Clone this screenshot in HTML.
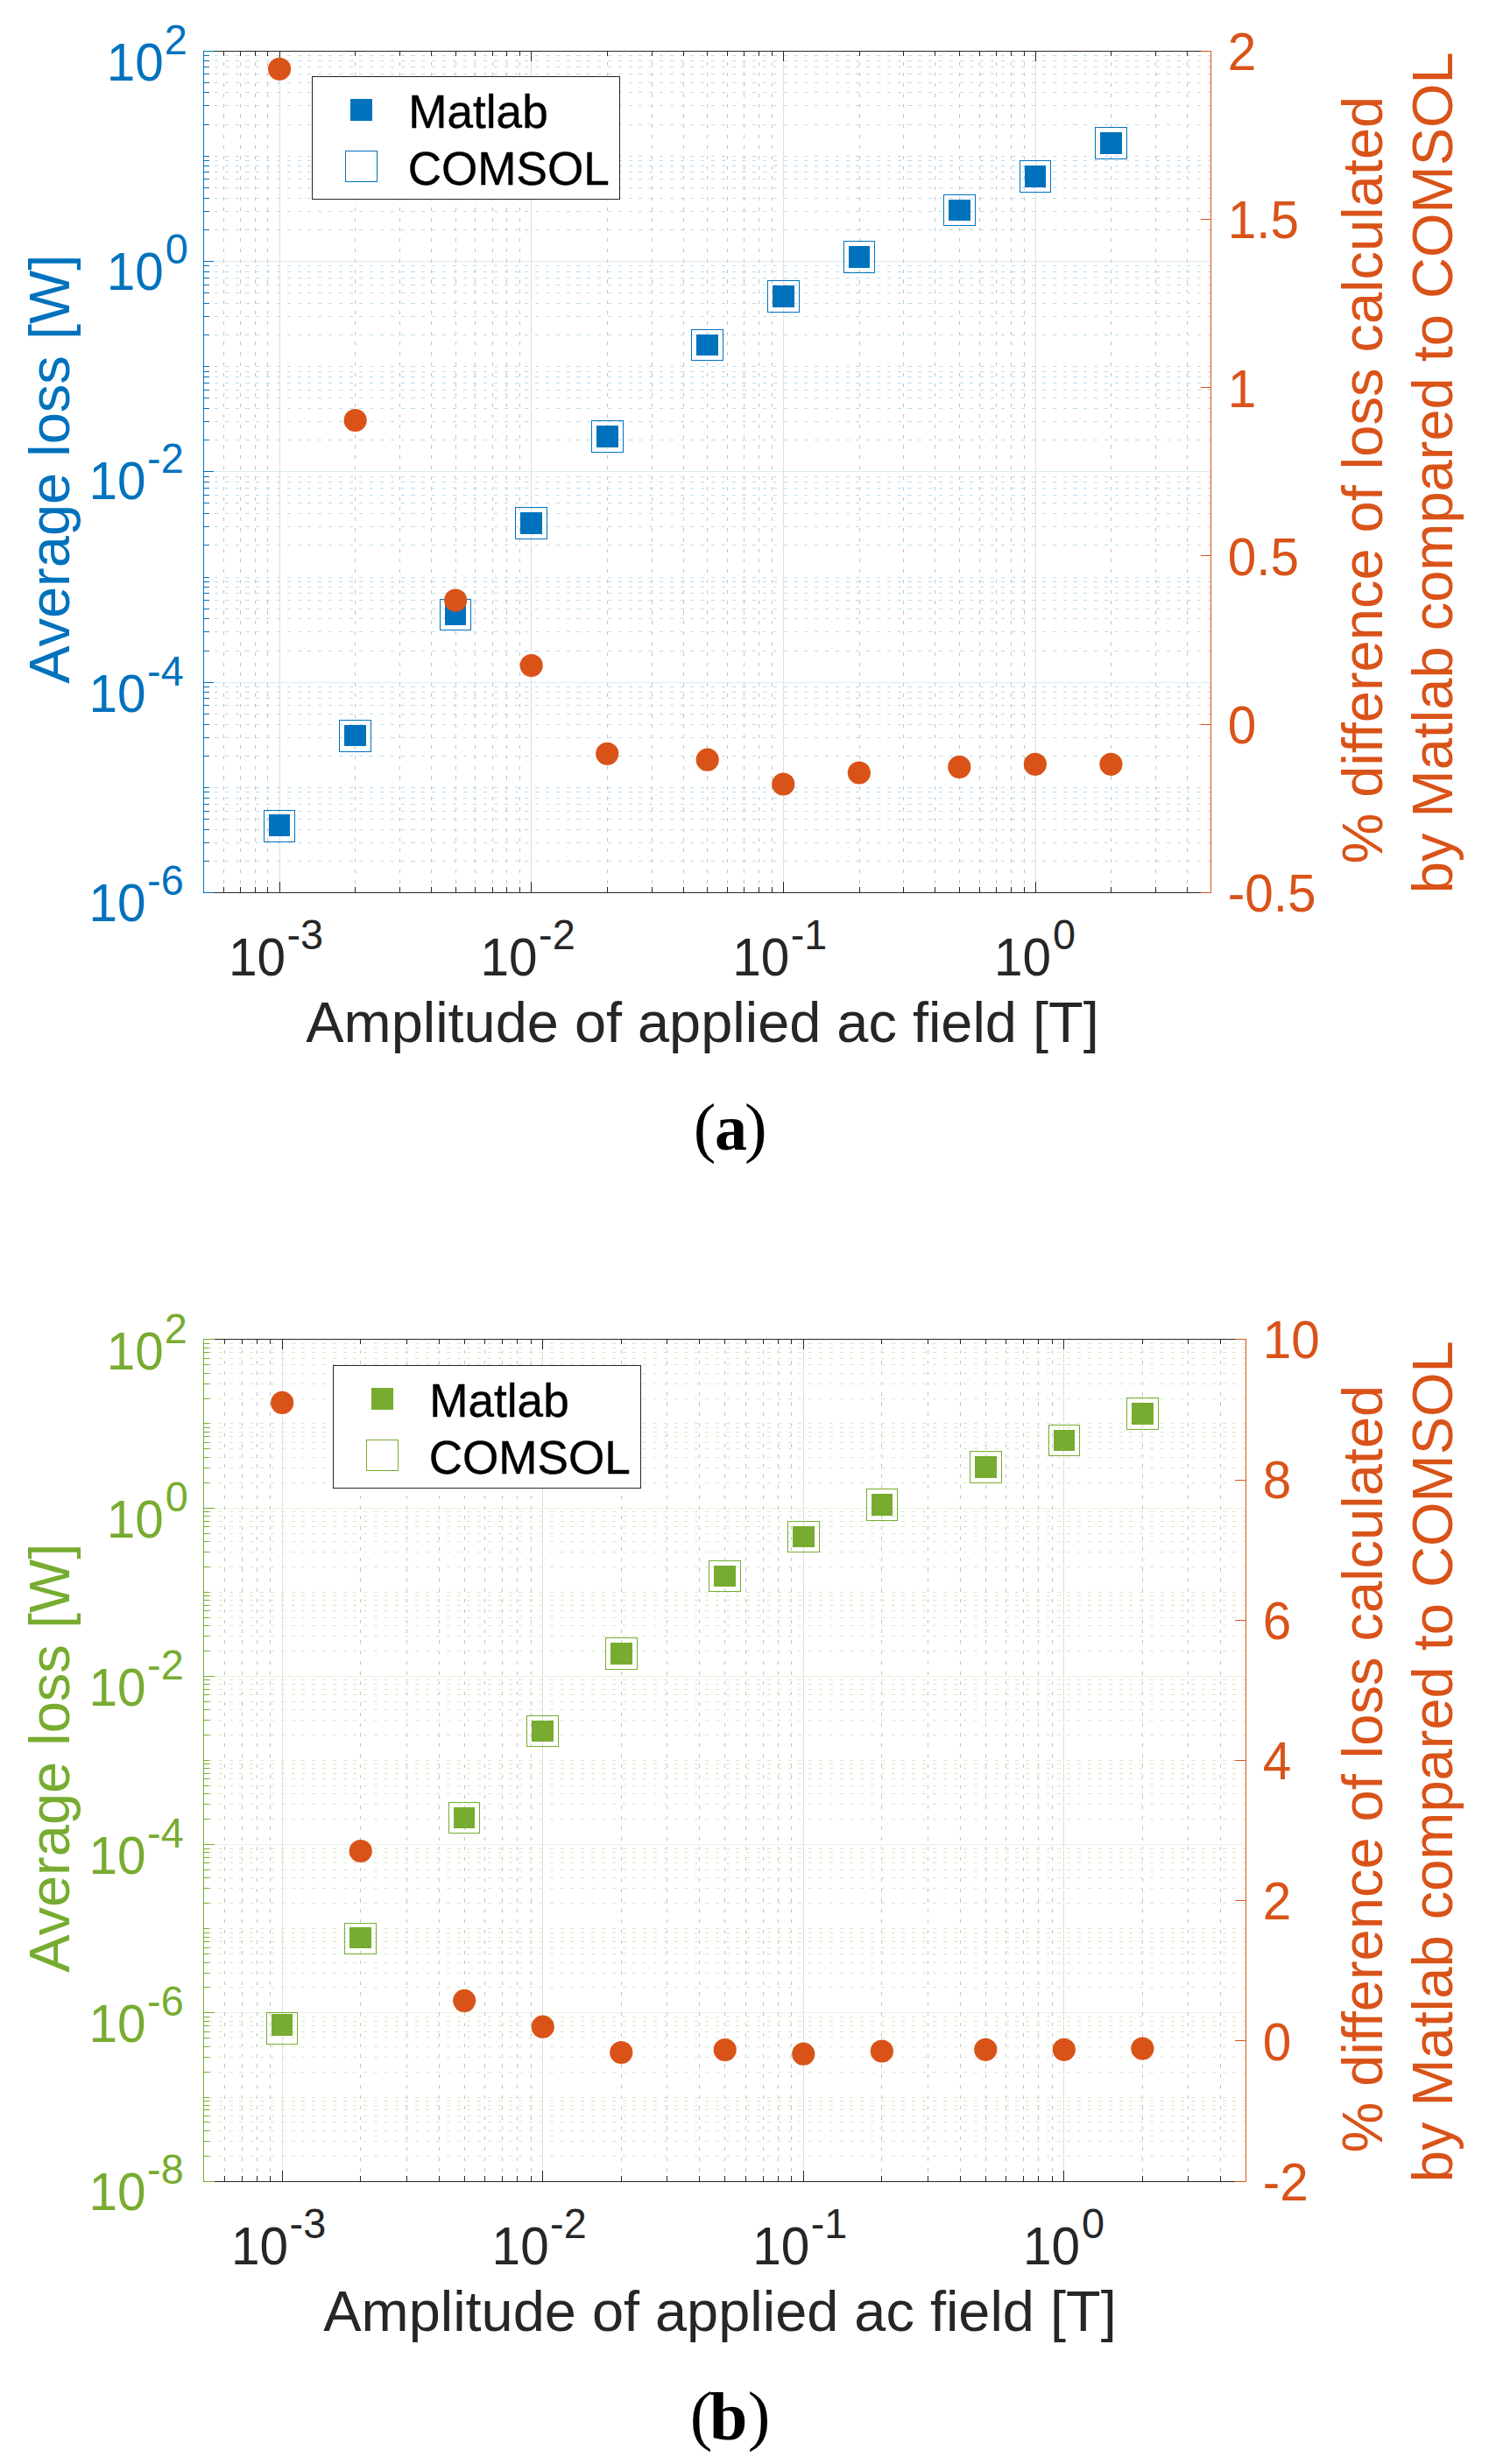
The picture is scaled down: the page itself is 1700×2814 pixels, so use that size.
<!DOCTYPE html>
<html lang="en"><head><meta charset="utf-8"><title>Average loss vs amplitude of applied ac field</title>
<style>html,body{margin:0;padding:0;background:#fff}svg{display:block}text{font-family:"Liberation Sans",sans-serif}.tk text{font-size:58.5px}.tk text.sp{font-size:46.8px}.lb text{font-size:65px}.lb text.xl{font-size:64.9px}.lg text{font-size:53.1px;fill:#000;stroke:#000;stroke-width:.4px}.cp text{font-family:"Liberation Serif",serif;font-size:77px;fill:#000}.cp .b{font-weight:bold}</style></head><body>
<svg width="1700" height="2814" viewBox="0 0 1700 2814">
<rect width="1700" height="2814" fill="#fff"/>
<g shape-rendering="crispEdges" fill="none" stroke-width="1">
<path d="M319.5 58.5V1019.5M606.5 58.5V1019.5M894.5 58.5V1019.5M1182.5 58.5V1019.5" stroke="#dedede"/>
<path d="M232.5 779.5H1382.5M232.5 538.5H1382.5M232.5 298.5H1382.5" stroke="#d9eaf5"/>
<path d="M255.5 59.6V1019.5M274.5 59.6V1019.5M291.5 59.6V1019.5M305.5 59.6V1019.5M405.5 59.6V1019.5M456.5 59.6V1019.5M492.5 59.6V1019.5M520.5 59.6V1019.5M542.5 59.6V1019.5M562.5 59.6V1019.5M578.5 59.6V1019.5M593.5 59.6V1019.5M693.5 59.6V1019.5M744.5 59.6V1019.5M780.5 59.6V1019.5M807.5 59.6V1019.5M830.5 59.6V1019.5M849.5 59.6V1019.5M866.5 59.6V1019.5M881.5 59.6V1019.5M981.5 59.6V1019.5M1031.5 59.6V1019.5M1067.5 59.6V1019.5M1095.5 59.6V1019.5M1118.5 59.6V1019.5M1137.5 59.6V1019.5M1154.5 59.6V1019.5M1169.5 59.6V1019.5M1268.5 59.6V1019.5M1319.5 59.6V1019.5M1355.5 59.6V1019.5" stroke="#c4c4c4" stroke-dasharray="4.05 7.7625"/>
<path d="M233.2 983.5H1382.5M233.2 962.5H1382.5M233.2 947.5H1382.5M233.2 935.5H1382.5M233.2 926.5H1382.5M233.2 918.5H1382.5M233.2 911.5H1382.5M233.2 904.5H1382.5M233.2 899.5H1382.5M233.2 863.5H1382.5M233.2 842.5H1382.5M233.2 827.5H1382.5M233.2 815.5H1382.5M233.2 805.5H1382.5M233.2 797.5H1382.5M233.2 790.5H1382.5M233.2 784.5H1382.5M233.2 743.5H1382.5M233.2 721.5H1382.5M233.2 706.5H1382.5M233.2 695.5H1382.5M233.2 685.5H1382.5M233.2 677.5H1382.5M233.2 670.5H1382.5M233.2 664.5H1382.5M233.2 659.5H1382.5M233.2 622.5H1382.5M233.2 601.5H1382.5M233.2 586.5H1382.5M233.2 574.5H1382.5M233.2 565.5H1382.5M233.2 557.5H1382.5M233.2 550.5H1382.5M233.2 544.5H1382.5M233.2 502.5H1382.5M233.2 481.5H1382.5M233.2 466.5H1382.5M233.2 454.5H1382.5M233.2 445.5H1382.5M233.2 437.5H1382.5M233.2 430.5H1382.5M233.2 424.5H1382.5M233.2 418.5H1382.5M233.2 382.5H1382.5M233.2 361.5H1382.5M233.2 346.5H1382.5M233.2 334.5H1382.5M233.2 325.5H1382.5M233.2 317.5H1382.5M233.2 310.5H1382.5M233.2 303.5H1382.5M233.2 262.5H1382.5M233.2 241.5H1382.5M233.2 226.5H1382.5M233.2 214.5H1382.5M233.2 204.5H1382.5M233.2 196.5H1382.5M233.2 189.5H1382.5M233.2 183.5H1382.5M233.2 178.5H1382.5M233.2 142.5H1382.5M233.2 120.5H1382.5M233.2 105.5H1382.5M233.2 94.5H1382.5M233.2 84.5H1382.5M233.2 76.5H1382.5M233.2 69.5H1382.5M233.2 63.5H1382.5" stroke="#bcdbee" stroke-dasharray="4.05 7.7625"/>
<path d="M232.5 58.5H1382.5M232.5 1019.5H1382.5M255.5 58v6M255.5 1020v-7M274.5 58v6M274.5 1020v-7M291.5 58v6M291.5 1020v-7M305.5 58v6M305.5 1020v-7M405.5 58v6M405.5 1020v-7M456.5 58v6M456.5 1020v-7M492.5 58v6M492.5 1020v-7M520.5 58v6M520.5 1020v-7M542.5 58v6M542.5 1020v-7M562.5 58v6M562.5 1020v-7M578.5 58v6M578.5 1020v-7M593.5 58v6M593.5 1020v-7M693.5 58v6M693.5 1020v-7M744.5 58v6M744.5 1020v-7M780.5 58v6M780.5 1020v-7M807.5 58v6M807.5 1020v-7M830.5 58v6M830.5 1020v-7M849.5 58v6M849.5 1020v-7M866.5 58v6M866.5 1020v-7M881.5 58v6M881.5 1020v-7M981.5 58v6M981.5 1020v-7M1031.5 58v6M1031.5 1020v-7M1067.5 58v6M1067.5 1020v-7M1095.5 58v6M1095.5 1020v-7M1118.5 58v6M1118.5 1020v-7M1137.5 58v6M1137.5 1020v-7M1154.5 58v6M1154.5 1020v-7M1169.5 58v6M1169.5 1020v-7M1268.5 58v6M1268.5 1020v-7M1319.5 58v6M1319.5 1020v-7M1355.5 58v6M1355.5 1020v-7M319.5 58v12M319.5 1020v-13M606.5 58v12M606.5 1020v-13M894.5 58v12M894.5 1020v-13M1182.5 58v12M1182.5 1020v-13" stroke="#262626"/>
<path d="M232.5 58V1020M232 983.5H239M232 962.5H239M232 947.5H239M232 935.5H239M232 926.5H239M232 918.5H239M232 911.5H239M232 904.5H239M232 899.5H239M232 863.5H239M232 842.5H239M232 827.5H239M232 815.5H239M232 805.5H239M232 797.5H239M232 790.5H239M232 784.5H239M232 743.5H239M232 721.5H239M232 706.5H239M232 695.5H239M232 685.5H239M232 677.5H239M232 670.5H239M232 664.5H239M232 659.5H239M232 622.5H239M232 601.5H239M232 586.5H239M232 574.5H239M232 565.5H239M232 557.5H239M232 550.5H239M232 544.5H239M232 502.5H239M232 481.5H239M232 466.5H239M232 454.5H239M232 445.5H239M232 437.5H239M232 430.5H239M232 424.5H239M232 418.5H239M232 382.5H239M232 361.5H239M232 346.5H239M232 334.5H239M232 325.5H239M232 317.5H239M232 310.5H239M232 303.5H239M232 262.5H239M232 241.5H239M232 226.5H239M232 214.5H239M232 204.5H239M232 196.5H239M232 189.5H239M232 183.5H239M232 178.5H239M232 142.5H239M232 120.5H239M232 105.5H239M232 94.5H239M232 84.5H239M232 76.5H239M232 69.5H239M232 63.5H239M232 1019.5H244M232 779.5H244M232 538.5H244M232 298.5H244M232 58.5H244" stroke="#0072bd"/>
<path d="M1382.5 58V1020M1383 1019.5H1371M1383 827.5H1371M1383 634.5H1371M1383 442.5H1371M1383 250.5H1371M1383 58.5H1371" stroke="#d95319"/>
</g>
<g fill="#0072bd" shape-rendering="crispEdges"><rect x="307" y="930" width="24" height="25"/><rect x="393" y="828" width="25" height="24"/><rect x="508" y="689" width="24" height="25"/><rect x="594" y="585" width="25" height="25"/><rect x="681" y="486" width="25" height="25"/><rect x="795" y="382" width="25" height="24"/><rect x="882" y="326" width="25" height="25"/><rect x="969" y="281" width="24" height="25"/><rect x="1083" y="228" width="25" height="24"/><rect x="1170" y="189" width="24" height="25"/><rect x="1256" y="151" width="25" height="25"/></g>
<g fill="none" stroke="#0072bd" stroke-width="1" shape-rendering="crispEdges"><rect x="301.5" y="925.5" width="35" height="36"/><rect x="387.5" y="822.5" width="36" height="36"/><rect x="502.5" y="684.5" width="35" height="35"/><rect x="588.5" y="579.5" width="36" height="36"/><rect x="675.5" y="480.5" width="36" height="36"/><rect x="789.5" y="376.5" width="36" height="35"/><rect x="876.5" y="320.5" width="36" height="36"/><rect x="963.5" y="275.5" width="35" height="36"/><rect x="1077.5" y="222.5" width="36" height="35"/><rect x="1164.5" y="183.5" width="35" height="36"/><rect x="1250.5" y="145.5" width="36" height="36"/></g>
<g fill="#d95319"><circle cx="319.08" cy="78.8" r="13.1"/><circle cx="405.65" cy="480" r="13.1"/><circle cx="520.1" cy="685.6" r="13.1"/><circle cx="606.68" cy="760.1" r="13.1"/><circle cx="693.25" cy="860.8" r="13.1"/><circle cx="807.7" cy="867.7" r="13.1"/><circle cx="894.28" cy="895.5" r="13.1"/><circle cx="980.85" cy="882.6" r="13.1"/><circle cx="1095.3" cy="875.9" r="13.1"/><circle cx="1181.88" cy="872.8" r="13.1"/><circle cx="1268.45" cy="872.8" r="13.1"/></g>
<rect x="356.5" y="87.5" width="351" height="140" fill="#fff" stroke="#262626" stroke-width="1" shape-rendering="crispEdges"/>
<g fill="#0072bd" shape-rendering="crispEdges"><rect x="400" y="113" width="25" height="25"/></g>
<g fill="none" stroke="#0072bd" stroke-width="1" shape-rendering="crispEdges"><rect x="394.5" y="172.5" width="36" height="35"/></g>
<g class="lg"><text x="466.3" y="145.9">Matlab</text><text x="465.7" y="210.9">COMSOL</text></g>
<g class="tk" fill="#0072bd"><text transform="translate(101.55 1052.1) scale(1 1.04)">10</text><text class="sp" transform="translate(168.05 1022.1) scale(1 1.04)">-6</text><text transform="translate(101.55 812.95) scale(1 1.04)">10</text><text class="sp" transform="translate(168.05 782.95) scale(1 1.04)">-4</text><text transform="translate(101.55 569.5) scale(1 1.04)">10</text><text class="sp" transform="translate(168.05 539.5) scale(1 1.04)">-2</text><text transform="translate(121.65 331.25) scale(1 1.04)">10</text><text class="sp" transform="translate(188.65 301.25) scale(1 1.04)">0</text><text transform="translate(121.65 92.2) scale(1 1.04)">10</text><text class="sp" transform="translate(187.75 62.2) scale(1 1.04)">2</text></g>
<g class="tk" fill="#262626"><text transform="translate(260.98 1113.9) scale(1 1.04)">10</text><text class="sp" transform="translate(327.48 1083.9) scale(1 1.04)">-3</text><text transform="translate(548.58 1113.9) scale(1 1.04)">10</text><text class="sp" transform="translate(615.08 1083.9) scale(1 1.04)">-2</text><text transform="translate(836.18 1113.9) scale(1 1.04)">10</text><text class="sp" transform="translate(902.68 1083.9) scale(1 1.04)">-1</text><text transform="translate(1135.08 1113.9) scale(1 1.04)">10</text><text class="sp" transform="translate(1202.08 1083.9) scale(1 1.04)">0</text></g>
<g class="tk" fill="#d95319"><text transform="translate(1401.7 1041.1) scale(1 1.04)">-0.5</text><text transform="translate(1401.7 848.9) scale(1 1.04)">0</text><text transform="translate(1401.7 656.7) scale(1 1.04)">0.5</text><text transform="translate(1401.7 464.5) scale(1 1.04)">1</text><text transform="translate(1401.7 272.3) scale(1 1.04)">1.5</text><text transform="translate(1401.7 80.1) scale(1 1.04)">2</text></g>
<g class="lb">
<text fill="#0072bd" transform="translate(79 780.75) rotate(-90)">Average loss [W]</text>
<text class="xl" fill="#262626" x="349.3" y="1190.3">Amplitude of applied ac field [T]</text>
<text fill="#d95319" transform="translate(1578 986.6) rotate(-90)">% difference of loss calculated</text>
<text fill="#d95319" transform="translate(1657.9 1020.2) rotate(-90)">by Matlab compared to COMSOL</text>
</g>
<g class="cp"><text x="791.7" y="1312.6">(</text><text class="b" style="font-size:74px" x="816" y="1313.3">a</text><text x="850" y="1312.6">)</text></g>
<g shape-rendering="crispEdges" fill="none" stroke-width="1">
<path d="M322.5 1529.5V2491.5M619.5 1529.5V2491.5M917.5 1529.5V2491.5M1214.5 1529.5V2491.5" stroke="#dedede"/>
<path d="M232.5 2298.5H1422.5M232.5 2106.5H1422.5M232.5 1914.5H1422.5M232.5 1722.5H1422.5" stroke="#ebf3e0"/>
<path d="M256.5 1530.6V2491.5M276.5 1530.6V2491.5M293.5 1530.6V2491.5M308.5 1530.6V2491.5M411.5 1530.6V2491.5M464.5 1530.6V2491.5M501.5 1530.6V2491.5M530.5 1530.6V2491.5M553.5 1530.6V2491.5M573.5 1530.6V2491.5M590.5 1530.6V2491.5M606.5 1530.6V2491.5M709.5 1530.6V2491.5M761.5 1530.6V2491.5M798.5 1530.6V2491.5M827.5 1530.6V2491.5M851.5 1530.6V2491.5M871.5 1530.6V2491.5M888.5 1530.6V2491.5M903.5 1530.6V2491.5M1006.5 1530.6V2491.5M1059.5 1530.6V2491.5M1096.5 1530.6V2491.5M1125.5 1530.6V2491.5M1148.5 1530.6V2491.5M1168.5 1530.6V2491.5M1185.5 1530.6V2491.5M1201.5 1530.6V2491.5M1304.5 1530.6V2491.5M1356.5 1530.6V2491.5M1393.5 1530.6V2491.5" stroke="#c4c4c4" stroke-dasharray="4.05 7.7625"/>
<path d="M238 2462.5H1422.5M238 2445.5H1422.5M238 2433.5H1422.5M238 2423.5H1422.5M238 2416.5H1422.5M238 2409.5H1422.5M238 2404.5H1422.5M238 2399.5H1422.5M238 2395.5H1422.5M238 2366.5H1422.5M238 2349.5H1422.5M238 2337.5H1422.5M238 2327.5H1422.5M238 2320.5H1422.5M238 2313.5H1422.5M238 2308.5H1422.5M238 2303.5H1422.5M238 2269.5H1422.5M238 2253.5H1422.5M238 2241.5H1422.5M238 2231.5H1422.5M238 2224.5H1422.5M238 2217.5H1422.5M238 2212.5H1422.5M238 2207.5H1422.5M238 2202.5H1422.5M238 2173.5H1422.5M238 2156.5H1422.5M238 2144.5H1422.5M238 2135.5H1422.5M238 2127.5H1422.5M238 2121.5H1422.5M238 2115.5H1422.5M238 2111.5H1422.5M238 2077.5H1422.5M238 2060.5H1422.5M238 2048.5H1422.5M238 2039.5H1422.5M238 2031.5H1422.5M238 2025.5H1422.5M238 2019.5H1422.5M238 2014.5H1422.5M238 2010.5H1422.5M238 1981.5H1422.5M238 1964.5H1422.5M238 1952.5H1422.5M238 1943.5H1422.5M238 1935.5H1422.5M238 1929.5H1422.5M238 1923.5H1422.5M238 1918.5H1422.5M238 1885.5H1422.5M238 1868.5H1422.5M238 1856.5H1422.5M238 1847.5H1422.5M238 1839.5H1422.5M238 1833.5H1422.5M238 1827.5H1422.5M238 1822.5H1422.5M238 1818.5H1422.5M238 1789.5H1422.5M238 1772.5H1422.5M238 1760.5H1422.5M238 1751.5H1422.5M238 1743.5H1422.5M238 1737.5H1422.5M238 1731.5H1422.5M238 1726.5H1422.5M238 1693.5H1422.5M238 1676.5H1422.5M238 1664.5H1422.5M238 1654.5H1422.5M238 1647.5H1422.5M238 1640.5H1422.5M238 1635.5H1422.5M238 1630.5H1422.5M238 1625.5H1422.5M238 1597.5H1422.5M238 1580.5H1422.5M238 1568.5H1422.5M238 1558.5H1422.5M238 1551.5H1422.5M238 1544.5H1422.5M238 1539.5H1422.5M238 1534.5H1422.5" stroke="#d9e8c6" stroke-dasharray="4.05 7.7625"/>
<path d="M232.5 1529.5H1422.5M232.5 2491.5H1422.5M256.5 1529v6M256.5 2492v-7M276.5 1529v6M276.5 2492v-7M293.5 1529v6M293.5 2492v-7M308.5 1529v6M308.5 2492v-7M411.5 1529v6M411.5 2492v-7M464.5 1529v6M464.5 2492v-7M501.5 1529v6M501.5 2492v-7M530.5 1529v6M530.5 2492v-7M553.5 1529v6M553.5 2492v-7M573.5 1529v6M573.5 2492v-7M590.5 1529v6M590.5 2492v-7M606.5 1529v6M606.5 2492v-7M709.5 1529v6M709.5 2492v-7M761.5 1529v6M761.5 2492v-7M798.5 1529v6M798.5 2492v-7M827.5 1529v6M827.5 2492v-7M851.5 1529v6M851.5 2492v-7M871.5 1529v6M871.5 2492v-7M888.5 1529v6M888.5 2492v-7M903.5 1529v6M903.5 2492v-7M1006.5 1529v6M1006.5 2492v-7M1059.5 1529v6M1059.5 2492v-7M1096.5 1529v6M1096.5 2492v-7M1125.5 1529v6M1125.5 2492v-7M1148.5 1529v6M1148.5 2492v-7M1168.5 1529v6M1168.5 2492v-7M1185.5 1529v6M1185.5 2492v-7M1201.5 1529v6M1201.5 2492v-7M1304.5 1529v6M1304.5 2492v-7M1356.5 1529v6M1356.5 2492v-7M1393.5 1529v6M1393.5 2492v-7M322.5 1529v12M322.5 2492v-13M619.5 1529v12M619.5 2492v-13M917.5 1529v12M917.5 2492v-13M1214.5 1529v12M1214.5 2492v-13" stroke="#262626"/>
<path d="M232.5 1529V2492M232 2462.5H239M232 2445.5H239M232 2433.5H239M232 2423.5H239M232 2416.5H239M232 2409.5H239M232 2404.5H239M232 2399.5H239M232 2395.5H239M232 2366.5H239M232 2349.5H239M232 2337.5H239M232 2327.5H239M232 2320.5H239M232 2313.5H239M232 2308.5H239M232 2303.5H239M232 2269.5H239M232 2253.5H239M232 2241.5H239M232 2231.5H239M232 2224.5H239M232 2217.5H239M232 2212.5H239M232 2207.5H239M232 2202.5H239M232 2173.5H239M232 2156.5H239M232 2144.5H239M232 2135.5H239M232 2127.5H239M232 2121.5H239M232 2115.5H239M232 2111.5H239M232 2077.5H239M232 2060.5H239M232 2048.5H239M232 2039.5H239M232 2031.5H239M232 2025.5H239M232 2019.5H239M232 2014.5H239M232 2010.5H239M232 1981.5H239M232 1964.5H239M232 1952.5H239M232 1943.5H239M232 1935.5H239M232 1929.5H239M232 1923.5H239M232 1918.5H239M232 1885.5H239M232 1868.5H239M232 1856.5H239M232 1847.5H239M232 1839.5H239M232 1833.5H239M232 1827.5H239M232 1822.5H239M232 1818.5H239M232 1789.5H239M232 1772.5H239M232 1760.5H239M232 1751.5H239M232 1743.5H239M232 1737.5H239M232 1731.5H239M232 1726.5H239M232 1693.5H239M232 1676.5H239M232 1664.5H239M232 1654.5H239M232 1647.5H239M232 1640.5H239M232 1635.5H239M232 1630.5H239M232 1625.5H239M232 1597.5H239M232 1580.5H239M232 1568.5H239M232 1558.5H239M232 1551.5H239M232 1544.5H239M232 1539.5H239M232 1534.5H239M232 2491.5H245M232 2298.5H245M232 2106.5H245M232 1914.5H245M232 1722.5H245M232 1529.5H245" stroke="#77ac30"/>
<path d="M1422.5 1529V2492M1423 2491.5H1410M1423 2330.5H1410M1423 2170.5H1410M1423 2010.5H1410M1423 1850.5H1410M1423 1690.5H1410M1423 1529.5H1410" stroke="#d95319"/>
</g>
<g fill="#77ac30" shape-rendering="crispEdges"><rect x="310" y="2300" width="24" height="25"/><rect x="399" y="2201" width="25" height="24"/><rect x="518" y="2064" width="24" height="24"/><rect x="607" y="1965" width="25" height="24"/><rect x="697" y="1876" width="25" height="25"/><rect x="815" y="1788" width="25" height="24"/><rect x="905" y="1743" width="25" height="24"/><rect x="995" y="1706" width="24" height="25"/><rect x="1113" y="1663" width="25" height="25"/><rect x="1203" y="1633" width="24" height="24"/><rect x="1292" y="1602" width="25" height="25"/></g>
<g fill="none" stroke="#77ac30" stroke-width="1" shape-rendering="crispEdges"><rect x="304.5" y="2298.5" width="35" height="36"/><rect x="393.5" y="2196.5" width="36" height="35"/><rect x="512.5" y="2058.5" width="35" height="35"/><rect x="601.5" y="1959.5" width="36" height="35"/><rect x="691.5" y="1870.5" width="36" height="36"/><rect x="809.5" y="1782.5" width="36" height="35"/><rect x="899.5" y="1737.5" width="36" height="35"/><rect x="989.5" y="1700.5" width="35" height="36"/><rect x="1107.5" y="1657.5" width="36" height="36"/><rect x="1197.5" y="1627.5" width="35" height="35"/><rect x="1286.5" y="1596.5" width="36" height="36"/></g>
<g fill="#d95319"><circle cx="322.17" cy="1601.9" r="13.1"/><circle cx="411.74" cy="2114" r="13.1"/><circle cx="530.15" cy="2284.9" r="13.1"/><circle cx="619.72" cy="2314.7" r="13.1"/><circle cx="709.29" cy="2344" r="13.1"/><circle cx="827.7" cy="2341" r="13.1"/><circle cx="917.27" cy="2345.7" r="13.1"/><circle cx="1006.84" cy="2342.5" r="13.1"/><circle cx="1125.25" cy="2340.8" r="13.1"/><circle cx="1214.82" cy="2340.8" r="13.1"/><circle cx="1304.39" cy="2339.6" r="13.1"/></g>
<rect x="380.5" y="1559.5" width="351" height="140" fill="#fff" stroke="#262626" stroke-width="1" shape-rendering="crispEdges"/>
<g fill="#77ac30" shape-rendering="crispEdges"><rect x="424" y="1585" width="25" height="25"/></g>
<g fill="none" stroke="#77ac30" stroke-width="1" shape-rendering="crispEdges"><rect x="418.5" y="1644.5" width="36" height="35"/></g>
<g class="lg"><text x="490.3" y="1617.9">Matlab</text><text x="489.7" y="1682.9">COMSOL</text></g>
<g class="tk" fill="#77ac30"><text transform="translate(101.55 2523.9) scale(1 1.04)">10</text><text class="sp" transform="translate(168.05 2493.9) scale(1 1.04)">-8</text><text transform="translate(101.55 2331.5) scale(1 1.04)">10</text><text class="sp" transform="translate(168.05 2301.5) scale(1 1.04)">-6</text><text transform="translate(101.55 2139.7) scale(1 1.04)">10</text><text class="sp" transform="translate(168.05 2109.7) scale(1 1.04)">-4</text><text transform="translate(101.55 1947.9) scale(1 1.04)">10</text><text class="sp" transform="translate(168.05 1917.9) scale(1 1.04)">-2</text><text transform="translate(121.65 1755.7) scale(1 1.04)">10</text><text class="sp" transform="translate(188.65 1725.7) scale(1 1.04)">0</text><text transform="translate(121.65 1563.8) scale(1 1.04)">10</text><text class="sp" transform="translate(187.75 1533.8) scale(1 1.04)">2</text></g>
<g class="tk" fill="#262626"><text transform="translate(264.07 2585.9) scale(1 1.04)">10</text><text class="sp" transform="translate(330.57 2555.9) scale(1 1.04)">-3</text><text transform="translate(561.62 2585.9) scale(1 1.04)">10</text><text class="sp" transform="translate(628.12 2555.9) scale(1 1.04)">-2</text><text transform="translate(859.17 2585.9) scale(1 1.04)">10</text><text class="sp" transform="translate(925.67 2555.9) scale(1 1.04)">-1</text><text transform="translate(1168.02 2585.9) scale(1 1.04)">10</text><text class="sp" transform="translate(1235.02 2555.9) scale(1 1.04)">0</text></g>
<g class="tk" fill="#d95319"><text transform="translate(1441.7 2513.1) scale(1 1.04)">-2</text><text transform="translate(1441.7 2352.77) scale(1 1.04)">0</text><text transform="translate(1441.7 2192.43) scale(1 1.04)">2</text><text transform="translate(1441.7 2032.1) scale(1 1.04)">4</text><text transform="translate(1441.7 1871.77) scale(1 1.04)">6</text><text transform="translate(1441.7 1711.43) scale(1 1.04)">8</text><text transform="translate(1441.7 1551.1) scale(1 1.04)">10</text></g>
<g class="lb">
<text fill="#77ac30" transform="translate(79 2252.75) rotate(-90)">Average loss [W]</text>
<text class="xl" fill="#262626" x="369.3" y="2662.3">Amplitude of applied ac field [T]</text>
<text fill="#d95319" transform="translate(1578 2458.6) rotate(-90)">% difference of loss calculated</text>
<text fill="#d95319" transform="translate(1657.9 2492.2) rotate(-90)">by Matlab compared to COMSOL</text>
</g>
<g class="cp"><text x="787.7" y="2784.3">(</text><text class="b" style="font-size:78px" x="810.1" y="2785.7">b</text><text x="853.8" y="2784.3">)</text></g>
</svg></body></html>
